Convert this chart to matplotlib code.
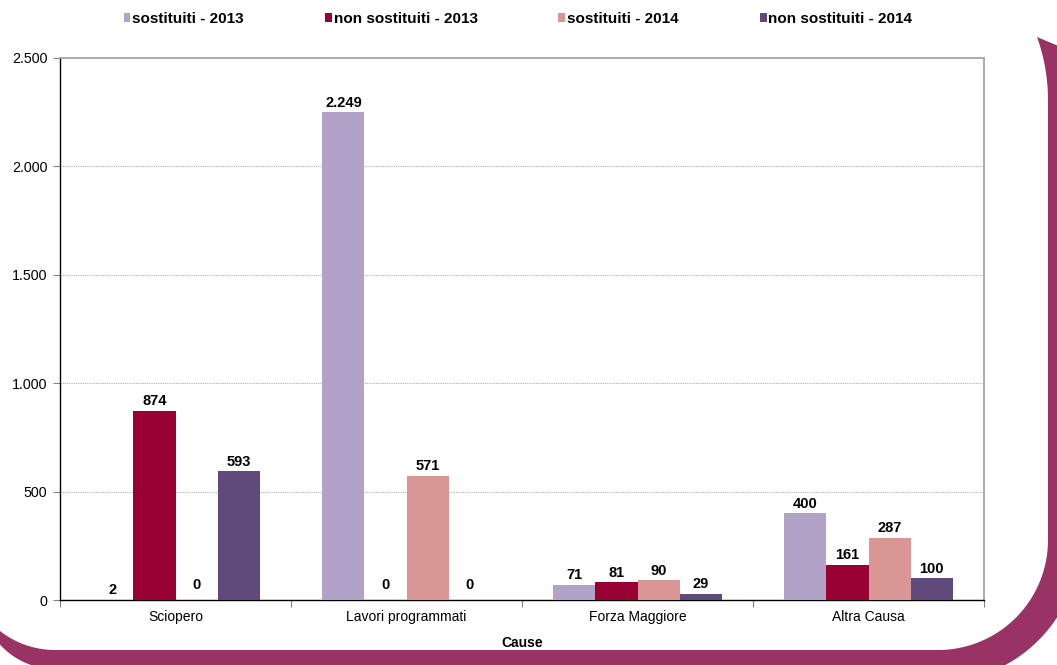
import numpy as np
import matplotlib
matplotlib.use("Agg")
import matplotlib.pyplot as plt
from matplotlib.patches import Polygon, Patch
from matplotlib.ticker import FuncFormatter, FixedLocator

plt.rcParams['font.family'] = ['Liberation Sans', 'DejaVu Sans']

categories = ["Sciopero", "Lavori programmati", "Forza Maggiore", "Altra Causa"]
series_names = ["sostituiti - 2013", "non sostituiti - 2013", "sostituiti - 2014", "non sostituiti - 2014"]
sostituiti_2013 = [2, 2249, 71, 400]
non_sostituiti_2013 = [874, 0, 81, 161]
sostituiti_2014 = [0, 571, 90, 287]
non_sostituiti_2014 = [593, 0, 29, 100]
series_values = [sostituiti_2013, non_sostituiti_2013, sostituiti_2014, non_sostituiti_2014]
colors = ["#B3A2C7", "#990033", "#D99694", "#604A7B"]
yticks = [0, 500, 1000, 1500, 2000, 2500]

W, H = 1057, 665
fig = plt.figure(figsize=(W / 100, H / 100), dpi=100)
fig.patch.set_facecolor("white")

# decorative maroon frame (pixel coords, y down)
def arc(cx, cy, r, t0, t1, n=60):
    t = np.radians(np.linspace(t0, t1, n))
    return np.column_stack([cx + r * np.cos(t), cy + r * np.sin(t)])

pts = [np.array([[1037, 37], [1080, 55]])]
pts.append(arc(938, 540, 142, 0, 90))
pts.append(np.array([[55, 669]]))
pts.append(arc(55, 595, 74, 90, 180))
pts.append(arc(55, 561, 89, 180, 90))
pts.append(arc(938, 540, 110, 90, 0))
pts.append(arc(862, 100, 186, 0, -19.8))
poly = np.vstack(pts)
poly_fig = np.column_stack([poly[:, 0] / W, 1 - poly[:, 1] / H])
fig.patches.append(Polygon(poly_fig, closed=True, transform=fig.transFigure,
                           facecolor="#993366", edgecolor="none", zorder=0))

ax = fig.add_axes([60 / W, 1 - 600 / H, 924 / W, 542 / H])
ax.set_facecolor("white")

x = np.arange(len(categories))
bw = 0.182
offsets = (np.arange(4) - 1.5) * bw
fmt = lambda v: f"{int(v):,}".replace(",", ".")

for i, (name, vals, c) in enumerate(zip(series_names, series_values, colors)):
    bars = ax.bar(x + offsets[i], vals, width=bw, color=c, label=name, zorder=3)
    for b, v in zip(bars, vals):
        ax.annotate(fmt(v), (b.get_x() + b.get_width() / 2, v),
                    xytext=(0, 2 if v > 0 else 6), textcoords="offset points",
                    ha="center", va="bottom", fontsize=10.5, fontweight="bold",
                    color="black", zorder=4)

ax.set_xlim(-0.5, len(categories) - 0.5)
ax.set_ylim(0, 2500)
ax.set_yticks(yticks)
ax.yaxis.set_major_formatter(FuncFormatter(lambda v, p: fmt(v)))
ax.tick_params(axis="y", length=5, width=0.8, color="#808080", labelsize=10.3, pad=4)
ax.set_xticks(x)
ax.set_xticklabels(categories, fontsize=10)
ax.tick_params(axis="x", which="major", length=0, pad=7)
ax.xaxis.set_minor_locator(FixedLocator(np.arange(-0.5, len(categories), 1.0)))
ax.tick_params(axis="x", which="minor", length=5, width=0.8, color="#808080")

ax.yaxis.grid(True, linestyle=(0, (1, 1)), color="#B0B0B0", linewidth=0.8, zorder=0)
ax.set_axisbelow(True)
for s in ["top", "right"]:
    ax.spines[s].set_color("#A6A6A6")
    ax.spines[s].set_linewidth(1.3)
for s in ["left", "bottom"]:
    ax.spines[s].set_color("black")
    ax.spines[s].set_linewidth(1.0)

ax.set_xlabel("Cause", fontsize=10, fontweight="bold", labelpad=9)

handles = [Patch(facecolor=c, edgecolor="none") for c in colors]
leg = fig.legend(handles, series_names, loc="center", bbox_to_anchor=(518 / W, 1 - 19 / H),
                 ncol=4, frameon=False, handlelength=0.45, handleheight=0.45,
                 handletextpad=0.12, columnspacing=5.3,
                 prop={"size": 11, "weight": "bold"})

fig.savefig("out.png", dpi=100, facecolor="white")
